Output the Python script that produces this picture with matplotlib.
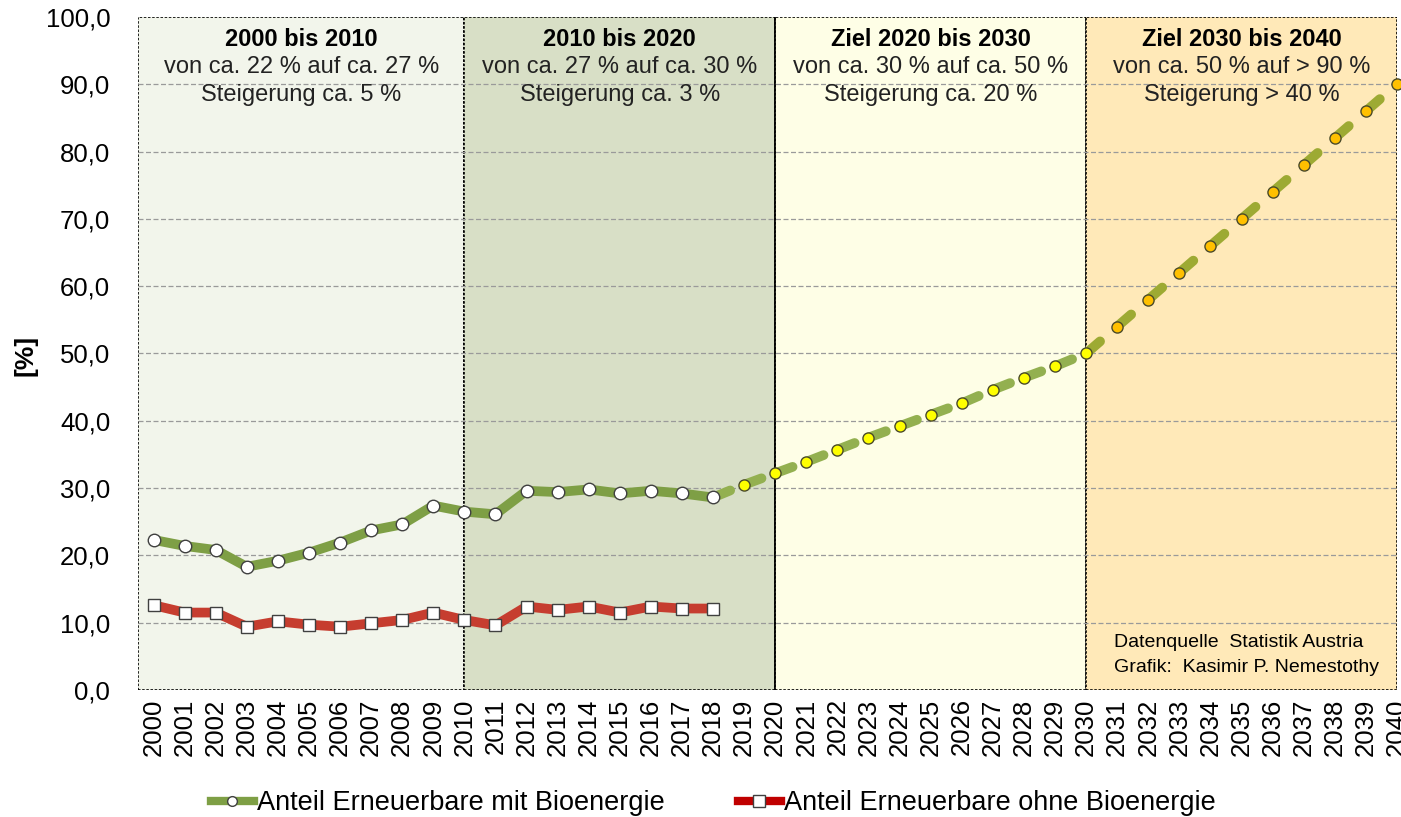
import matplotlib.pyplot as plt
from matplotlib.patches import Rectangle
from matplotlib.lines import Line2D

# --- data ---
YEARS_HIST = list(range(2000, 2019))
MIT_BIO = [22.3, 21.4, 20.8, 18.3, 19.2, 20.4, 21.9, 23.7, 24.6, 27.4,
           26.5, 26.1, 29.6, 29.4, 29.8, 29.2, 29.6, 29.2, 28.6]
OHNE_BIO = [12.6, 11.5, 11.5, 9.4, 10.2, 9.7, 9.4, 9.9, 10.4, 11.5,
            10.4, 9.6, 12.4, 11.9, 12.4, 11.5, 12.4, 12.1, 12.1]

YEARS_ZIEL_2030 = list(range(2018, 2031))
ZIEL_2030 = [28.6, 30.5, 32.2, 33.9, 35.7, 37.5, 39.2, 40.9, 42.6, 44.6, 46.4, 48.1, 50.0]
YEARS_ZIEL_2040 = list(range(2030, 2041))
ZIEL_2040 = [50.0, 54.0, 58.0, 62.0, 66.0, 70.0, 74.0, 78.0, 82.0, 86.0, 90.0]

PANEL_BOUNDS = [(1999.5, 2010), (2010, 2020), (2020, 2030), (2030, 2040)]
PANEL_COLORS = ['#F2F5EB', '#D8DFC6', '#FEFEE6', '#FFE9B8']
PANEL_TITLES = ['2000 bis 2010', '2010 bis 2020', 'Ziel 2020 bis 2030', 'Ziel 2030 bis 2040']
PANEL_LINE1 = ['von ca. 22 % auf ca. 27 %', 'von ca. 27 % auf ca. 30 %',
               'von ca. 30 % auf ca. 50 %', 'von ca. 50 % auf > 90 %']
PANEL_LINE2 = ['Steigerung ca. 5 %', 'Steigerung ca. 3 %',
               'Steigerung ca. 20 %', 'Steigerung > 40 %']

GREEN = '#7E9F45'
RED = '#C63D2F'
DASH_GREEN_1 = '#93B050'
DASH_GREEN_2 = '#9DAA33'

plt.rcParams['font.family'] = ['Liberation Sans', 'DejaVu Sans']


def dashed_segments(ax, xs, ys, color, marker_face):
    # Excel restarts the dash pattern on every segment
    for i in range(len(xs) - 1):
        ax.plot(xs[i:i + 2], ys[i:i + 2], color=color, lw=7,
                dashes=(1.9, 10), dash_capstyle='round', zorder=4)
    ax.plot(xs[1:], ys[1:], ls='none', marker='o', markersize=8,
            markerfacecolor=marker_face, markeredgecolor='#4A4A2A',
            markeredgewidth=1.0, zorder=6, clip_on=False)


def main():
    fig = plt.figure(figsize=(14.01, 8.17), dpi=100)
    ax = fig.add_axes([0.0985, 0.1555, 0.8986, 0.8237])
    ax.set_xlim(1999.5, 2040)
    ax.set_ylim(0, 100)

    for (x0, x1), col in zip(PANEL_BOUNDS, PANEL_COLORS):
        ax.add_patch(Rectangle((x0, 0), x1 - x0, 100, facecolor=col,
                               edgecolor='black', lw=1.2, ls=(0, (1.5, 1)), zorder=0))
    ax.axvline(2020, color='black', lw=1.2, zorder=1)

    for y in range(10, 100, 10):
        ax.axhline(y, color='#9A9A9A', lw=0.9, ls=(0, (4, 2)), zorder=1)

    for (x0, x1), t, l1, l2 in zip(PANEL_BOUNDS, PANEL_TITLES, PANEL_LINE1, PANEL_LINE2):
        xc = (x0 + x1) / 2
        ax.text(xc, 96.6, t, ha='center', va='center', fontsize=17, fontweight='bold', zorder=3)
        ax.text(xc, 92.6, l1, ha='center', va='center', fontsize=17, color='#222222', zorder=3)
        ax.text(xc, 88.4, l2, ha='center', va='center', fontsize=17, color='#222222', zorder=3)

    dashed_segments(ax, YEARS_ZIEL_2030, ZIEL_2030, DASH_GREEN_1, '#FFFF00')
    dashed_segments(ax, YEARS_ZIEL_2040, ZIEL_2040, DASH_GREEN_2, '#FFC000')

    ax.plot(YEARS_HIST, MIT_BIO, color=GREEN, lw=7, solid_capstyle='round', zorder=5,
            marker='o', markersize=9, markerfacecolor='white',
            markeredgecolor='#404040', markeredgewidth=1.0)
    ax.plot(YEARS_HIST, OHNE_BIO, color=RED, lw=7, solid_capstyle='round', zorder=5,
            marker='s', markersize=9, markerfacecolor='white',
            markeredgecolor='#404040', markeredgewidth=1.0)

    ax.text(2030.9, 7.0, 'Datenquelle  Statistik Austria', fontsize=14, va='center', zorder=3)
    ax.text(2030.9, 3.4, 'Grafik:  Kasimir P. Nemestothy', fontsize=14, va='center', zorder=3)

    for s in ax.spines.values():
        s.set_visible(False)
    ax.set_xticks(range(2000, 2041))
    ax.set_xticklabels([str(y) for y in range(2000, 2041)], rotation=90, fontsize=18.5)
    ax.set_yticks(range(0, 101, 10))
    ax.set_yticklabels([f'{v},0' for v in range(0, 101, 10)], fontsize=18.5)
    ax.tick_params(axis='x', length=0, pad=6)
    ax.tick_params(axis='y', length=0, pad=20)

    fig.text(0.018, 0.565, '[%]', rotation=90, fontsize=19, fontweight='bold',
             ha='center', va='center')

    handles = [
        Line2D([], [], color=GREEN, lw=6, marker='o', markersize=7,
               markerfacecolor='white', markeredgecolor='#404040'),
        Line2D([], [], color='#C00000', lw=6, marker='s', markersize=8,
               markerfacecolor='white', markeredgecolor='#404040'),
    ]
    fig.legend(handles, ['Anteil Erneuerbare mit Bioenergie', 'Anteil Erneuerbare ohne Bioenergie'],
               loc='center', bbox_to_anchor=(0.509, 0.017), ncol=2, frameon=False,
               fontsize=19.5, handlelength=1.6, handletextpad=0.1, columnspacing=2.7)

    fig.savefig('out.png', dpi=100)


if __name__ == '__main__':
    main()
